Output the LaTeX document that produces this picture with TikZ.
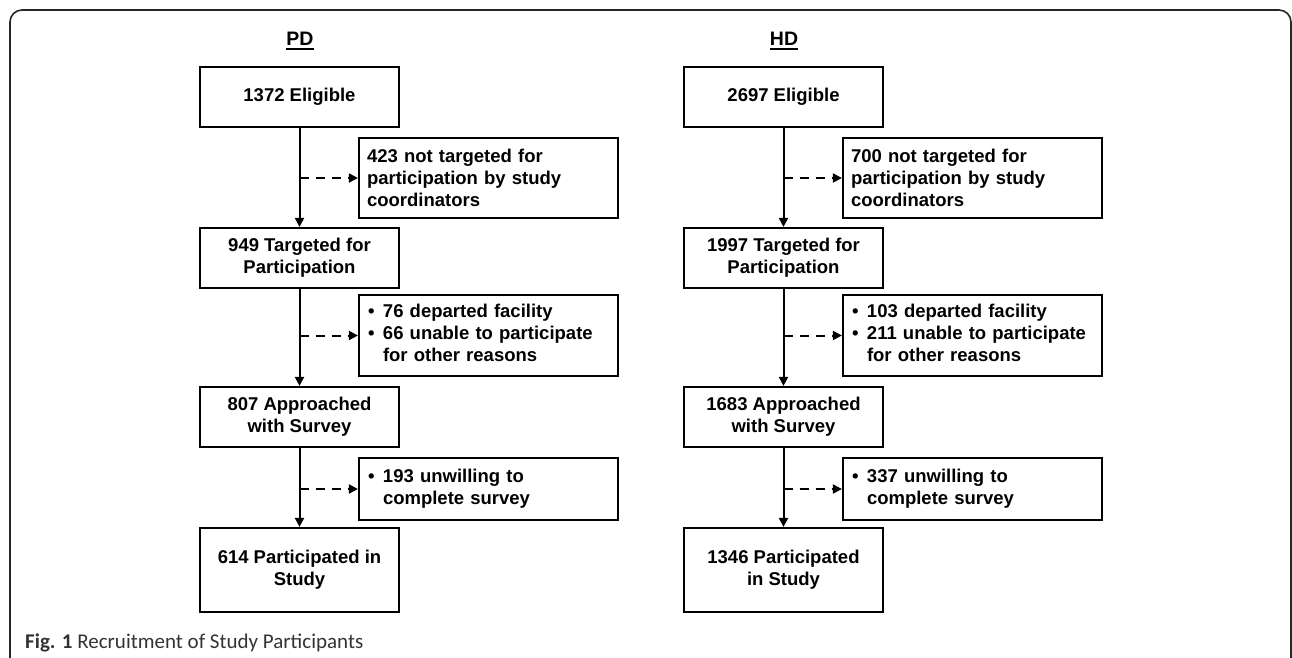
\documentclass[tikz,border=0pt]{standalone}
\usepackage{fontspec}
\setmainfont{Liberation Sans}
\newfontfamily\capfont{Carlito}
\usetikzlibrary{arrows.meta}
\tikzset{
  mainbox/.style={draw, line width=2.2pt, minimum width=199pt, inner sep=0pt, align=center,
    font=\fontsize{18.5}{22}\selectfont\bfseries},
  sidebox/.style={draw, line width=2.2pt, minimum width=259pt, text width=243pt, inner xsep=8pt, inner ysep=0pt, align=left,
    font=\fontsize{18.5}{22}\selectfont\bfseries},
  headlbl/.style={font=\fontsize{19.5}{22}\selectfont\bfseries, inner sep=0pt},
  flowarrow/.style={line width=2pt, -{Triangle[length=9pt,width=9pt]}},
  dasharrow/.style={line width=2pt, dash pattern=on 9pt off 7pt, -{Triangle[length=9pt,width=9pt]}},
  framepath/.style={line width=1.6pt, draw=black!85, rounded corners=12pt},
}
\newcommand{\bl}{\hspace*{1pt}\textbullet}
\newcommand{\ul}[1]{\tikz[baseline=(u.base)]{\node[inner sep=0pt] (u) {#1}; \draw[line width=1.3pt] ([yshift=-3.5pt]u.base west) -- ([yshift=-3.5pt]u.base east);}}
\begin{document}
\begin{tikzpicture}[x=1pt,y=-1pt]
\useasboundingbox (0,0) rectangle (1292,657);
\begin{scope}
\clip (0,0) rectangle (1292,657);
\draw[framepath] (10,700) -- (10,10) -- (1291,10) -- (1291,700);
\end{scope}

% PD column
\node[headlbl] (pd) at (300,41) {\ul{PD}};
\node[mainbox, minimum height=60pt] (m1) at (299.5,97) {1372 Eligible};
\node[sidebox, minimum height=80pt] (s1) at (488.5,178) {423 not targeted for\\participation by study\\coordinators};
\node[mainbox, minimum height=60pt] (m2) at (299.5,258) {949 Targeted for\\Participation};
\node[sidebox, minimum height=81pt] (s2) at (488.5,335.5) {\begin{tabular}{@{}p{16pt}@{}l@{}}\bl & 76 departed facility\\ \bl & 66 unable to participate\\ & for other reasons\end{tabular}};
\node[mainbox, minimum height=60pt] (m3) at (299.5,417) {807 Approached\\with Survey};
\node[sidebox, minimum height=62pt] (s3) at (488.5,489) {\begin{tabular}{@{}p{16pt}@{}l@{}}\bl & 193 unwilling to\\ & complete survey\end{tabular}};
\node[mainbox, minimum height=84pt] (m4) at (299.5,570) {614 Participated in\\Study};

\draw[flowarrow] (m1.south) -- (m2.north);
\draw[flowarrow] (m2.south) -- (m3.north);
\draw[flowarrow] (m3.south) -- (m4.north);
\draw[dasharrow] (m1.south |- s1.west) -- (s1.west);
\draw[dasharrow] (m2.south |- s2.west) -- (s2.west);
\draw[dasharrow] (m3.south |- s3.west) -- (s3.west);

% HD column
\node[headlbl] (hd) at (784,41) {\ul{HD}};
\node[mainbox, minimum height=60pt] (n1) at (783.5,97) {2697 Eligible};
\node[sidebox, minimum height=80pt] (t1) at (972.5,178) {700 not targeted for\\participation by study\\coordinators};
\node[mainbox, minimum height=60pt] (n2) at (783.5,258) {1997 Targeted for\\Participation};
\node[sidebox, minimum height=81pt] (t2) at (972.5,335.5) {\begin{tabular}{@{}p{16pt}@{}l@{}}\bl & 103 departed facility\\ \bl & 211 unable to participate\\ & for other reasons\end{tabular}};
\node[mainbox, minimum height=60pt] (n3) at (783.5,417) {1683 Approached\\with Survey};
\node[sidebox, minimum height=62pt] (t3) at (972.5,489) {\begin{tabular}{@{}p{16pt}@{}l@{}}\bl & 337 unwilling to\\ & complete survey\end{tabular}};
\node[mainbox, minimum height=84pt] (n4) at (783.5,570) {1346 Participated\\in Study};

\draw[flowarrow] (n1.south) -- (n2.north);
\draw[flowarrow] (n2.south) -- (n3.north);
\draw[flowarrow] (n3.south) -- (n4.north);
\draw[dasharrow] (n1.south |- t1.west) -- (t1.west);
\draw[dasharrow] (n2.south |- t2.west) -- (t2.west);
\draw[dasharrow] (n3.south |- t3.west) -- (t3.west);

% caption
\node[anchor=base west, inner sep=0pt, font=\capfont\fontsize{21}{24}\selectfont, text=black!80] (cap) at (25,648) {\textbf{Fig. 1} Recruitment of Study Participants};
\end{tikzpicture}
\end{document}
